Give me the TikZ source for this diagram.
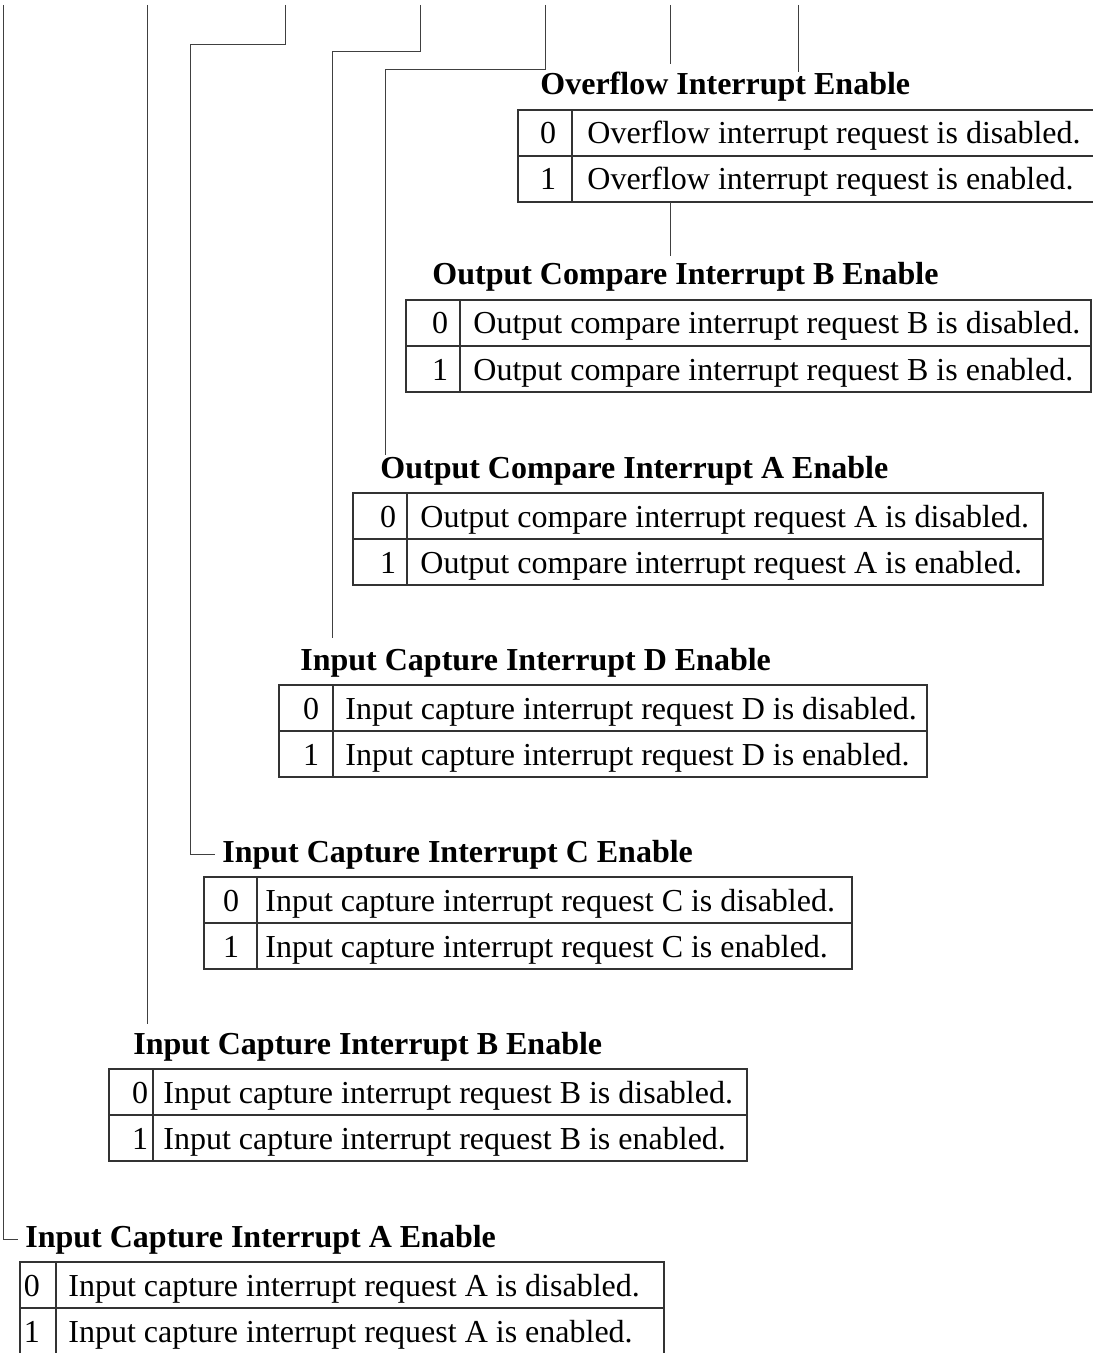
\documentclass[tikz,border=0pt]{standalone}
\usepackage{fontspec}
\setmainfont{Liberation Serif}
\usetikzlibrary{positioning}

\begin{document}
\begin{tikzpicture}[x=0.5pt, y=-0.5pt,
    font=\fontsize{16pt}{19pt}\selectfont,
    head/.style={font=\fontsize{16pt}{19pt}\selectfont\bfseries, inner sep=0pt, anchor=base west},
    digit/.style={inner sep=0pt, anchor=base},
    desc/.style={inner sep=0pt, anchor=base west},
    grid/.style={draw=black!80, line width=0.7pt},
    wire/.style={draw=black!75, line width=0.5pt}]
  \useasboundingbox (0,0) rectangle (1092,1353);
  % one block per bit: name/left/divider/right/top/title x/digit x/text x/title/text
  \foreach \nm/\xl/\xm/\xr/\yt/\tx/\nx/\dx/\head/\txt in {
      ovf/518/572/1100/110/540/548/587/Overflow Interrupt Enable/Overflow interrupt request,
      ocb/406/460/1091/300/432/440/473/Output Compare Interrupt B Enable/Output compare interrupt request B,
      oca/353/407/1043/493/380/388/420/Output Compare Interrupt A Enable/Output compare interrupt request A,
      icd/279/333/927/685/300/311/345/Input Capture Interrupt D Enable/Input capture interrupt request D,
      icc/204/257/852/877/222/231/265/Input Capture Interrupt C Enable/Input capture interrupt request C,
      icb/109/153/747/1069/133/140/163/Input Capture Interrupt B Enable/Input capture interrupt request B,
      ica/20/56/664/1262/25/32/68/Input Capture Interrupt A Enable/Input capture interrupt request A}{
    \node[head] (\nm) at (\tx,{\yt-15}) {\head};
    \draw[grid] (\xl,\yt) rectangle (\xr,{\yt+92});
    \draw[grid] (\xl,{\yt+46}) -- (\xr,{\yt+46});
    \draw[grid] (\xm,\yt) -- (\xm,{\yt+92});
    \coordinate (\nm-bot) at (\xl,{\yt+92});
    \node[digit] (\nm-0) at (\nx,{\yt+34}) {0};
    \node[digit] (\nm-1) at (\nx,{\yt+80}) {1};
    \node[desc] (\nm-off) at (\dx,{\yt+34}) {\txt{} is disabled.};
    \node[desc] (\nm-on)  at (\dx,{\yt+80}) {\txt{} is enabled.};
  }
  % register bits along the top edge
  \coordinate (ica-bit) at (3,5);
  \coordinate (icb-bit) at (147,5);
  \coordinate (icc-bit) at (285,5);
  \coordinate (icd-bit) at (420,5);
  \coordinate (oca-bit) at (545,5);
  \coordinate (ocb-bit) at (670,5);
  \coordinate (ovf-bit) at (798,5);
  \coordinate (icc-bend) at (190,45);
  \coordinate (icd-bend) at (332,52);
  \coordinate (oca-bend) at (385,70);

  \draw[wire] (ovf-bit) -- (ovf-bit |- ovf.north);
  \draw[wire] (ocb-bit) -- ([yshift=4pt]ocb-bit |- ovf.north);
  \draw[wire] (ocb-bit |- ovf-bot) -- ([yshift=3pt]ocb-bit |- ocb.north);
  \draw[wire] (oca-bit) |- (oca-bend) -- (oca-bend |- oca.north);
  \draw[wire] (icd-bit) |- (icd-bend) -- ([yshift=4.5pt]icd-bend |- icd.north);
  \draw[wire] (icc-bit) |- (icc-bend) |- ([xshift=-3.5pt]icc.west);
  \draw[wire] (icb-bit) -- ([yshift=3.5pt]icb-bit |- icb.north);
  \draw[wire] (ica-bit) |- ([xshift=-3.5pt]ica.west);
\end{tikzpicture}
\end{document}
